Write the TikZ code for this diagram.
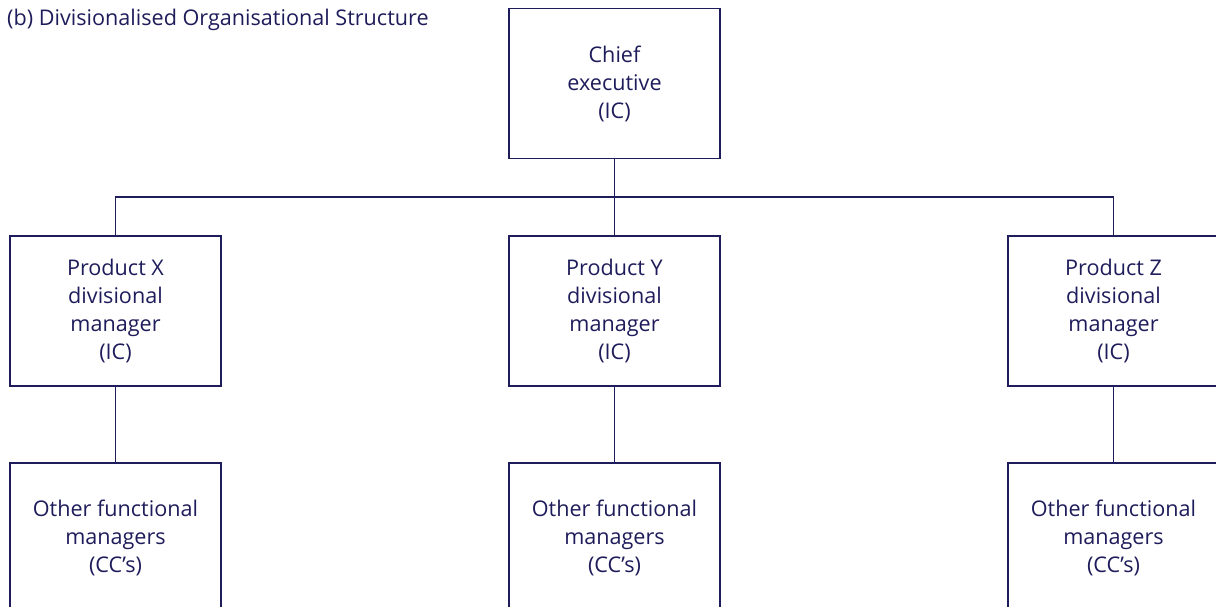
\documentclass[tikz,border=0pt]{standalone}
\usepackage{fontspec}
\setmainfont{Open Sans}
\definecolor{navy}{RGB}{30,28,90}
\begin{document}
\begin{tikzpicture}[x=1pt,y=-1pt,
  box/.style={draw=navy,line width=1.3pt,minimum width=211pt,minimum height=150pt,
    align=center,text=navy,font=\fontsize{21.6}{28}\selectfont,inner sep=0pt},
  conn/.style={draw=navy,line width=1.3pt}]
\useasboundingbox (0,0) rectangle (1216,607);
\clip (0,0) rectangle (1216,607);
\node[anchor=west,text=navy,font=\fontsize{21.6}{26}\selectfont,inner sep=0pt] (title) at (7,20) {(b) Divisionalised Organisational Structure};
\node[box] (ce) at (614.5,83.5) {Chief\\executive\\(IC)};
\node[box] (px) at (115.5,311) {Product X\\divisional\\manager\\(IC)};
\node[box] (py) at (614.5,311) {Product Y\\divisional\\manager\\(IC)};
\node[box] (pz) at (1113.5,311) {Product Z\\divisional\\manager\\(IC)};
\node[box] (ox) at (115.5,538) {Other functional\\managers\\(CC’s)};
\node[box] (oy) at (614.5,538) {Other functional\\managers\\(CC’s)};
\node[box] (oz) at (1113.5,538) {Other functional\\managers\\(CC’s)};
\coordinate (hj) at (614.5,197);
\draw[conn] (ce.south) -- (hj);
\draw[conn] (hj) -- (py.north);
\draw[conn] (hj) -| (px.north);
\draw[conn] (hj) -| (pz.north);
\draw[conn] (px.south) -- (ox.north);
\draw[conn] (py.south) -- (oy.north);
\draw[conn] (pz.south) -- (oz.north);
\end{tikzpicture}
\end{document}
